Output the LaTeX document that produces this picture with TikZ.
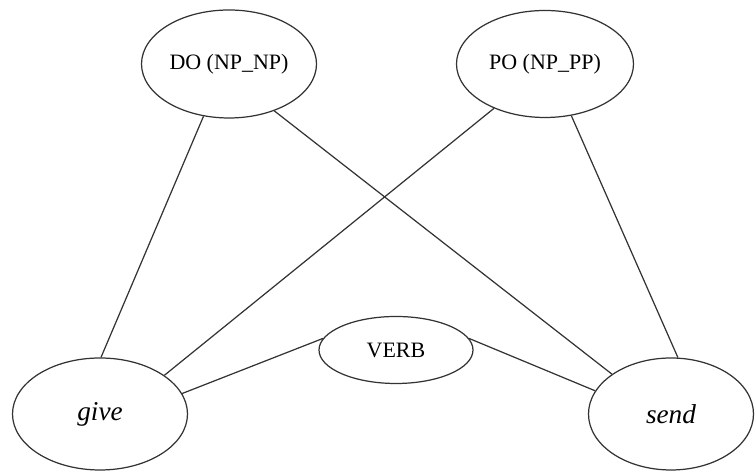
\documentclass[tikz,border=0pt]{standalone}
\usepackage{fontspec}
\setmainfont{Liberation Serif}
\usetikzlibrary{shapes.geometric,positioning}

\begin{document}
\begin{tikzpicture}[
  frame/.style={
    ellipse, draw=black!80, line width=0.7pt, inner sep=0pt,
    font=\fontsize{12.5}{14}\selectfont
  },
  verbnode/.style={
    frame, font=\fontsize{15.5}{17}\selectfont\itshape
  },
  link/.style={draw=black!80, line width=0.7pt},
]
  \useasboundingbox (0,0) rectangle (15.12,9.48);

  % Row 1: constructions
  \node[frame, minimum width=3.5cm, minimum height=2.16cm] (do) at (4.58,8.2) {DO (NP\_NP)};
  \node[frame, minimum width=3.54cm, minimum height=2.14cm] (po) at (10.9,8.2) {PO (NP\_PP)};

  % Row 2: verb category
  \node[frame, minimum width=3.08cm, minimum height=1.34cm] (verb) at (7.92,2.48) {VERB};

  % Row 3: verbs
  \node[verbnode, minimum width=3.5cm, minimum height=2.24cm] (give) at (2.0,1.2) {give};
  \node[verbnode, minimum width=3.3cm, minimum height=2.24cm] (send) at (13.42,1.2) {send};

  % Links (border anchors by angle)
  \draw[link] (do.244) -- (give.89);
  \draw[link] (do.314) -- (send.146);
  \draw[link] (po.221) -- (give.31);
  \draw[link] (po.297) -- (send.83);
  \draw[link] (verb.171) -- (give.14);
  \draw[link] (verb.9) -- (send.163);
\end{tikzpicture}
\end{document}
